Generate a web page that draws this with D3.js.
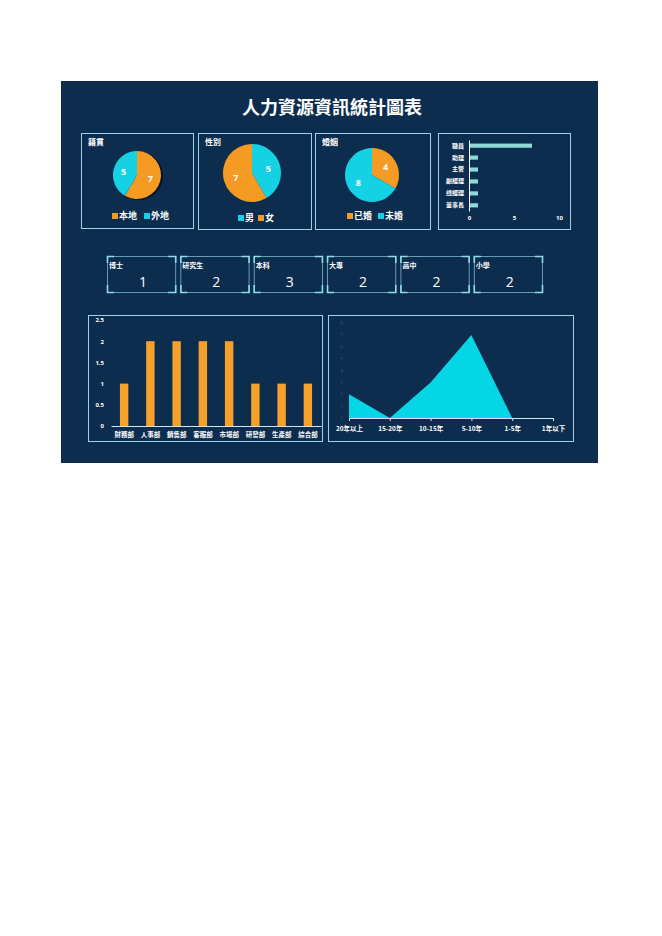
<!DOCTYPE html>
<html>
<head>
<meta charset="utf-8">
<script src="https://cdn.jsdelivr.net/npm/d3@7"></script>
<style>
  body { margin: 0; background: #ffffff; }
  svg text { font-family: "Noto Sans CJK TC", "Noto Sans", sans-serif; }
</style>
</head>
<body>
<svg id="board" width="662" height="936"></svg>
<script>
// ---- data ----
var title = '人力資源資訊統計圖表'

var originLabels = ['本地', '外地']
var originValues = [7, 5]

var genderLabels = ['男', '女']
var genderValues = [5, 7]

var maritalLabels = ['已婚', '未婚']
var maritalValues = [4, 8]

var roles = ['職員', '助理', '主管', '副經理', '總經理', '董事長']
var roleCounts = [7, 1, 1, 1, 1, 1]
var roleTicks = [0, 5, 10]

var eduLabels = ['博士', '研究生', '本科', '大專', '高中', '小學']
var eduCounts = [1, 2, 3, 2, 2, 2]

var depts = ['財務部', '人事部', '銷售部', '客服部', '市場部', '研發部', '生產部', '綜合部']
var deptCounts = [1, 2, 2, 2, 2, 1, 1, 1]
var deptTicks = [0, 0.5, 1, 1.5, 2, 2.5]

var tenure = ['20年以上', '15-20年', '10-15年', '5-10年', '1-5年', '1年以下']
var tenureCounts = [2, 0, 3, 7, 0, 0]
var tenureTicks = [0, 1, 2, 3, 4, 5, 6, 7, 8]

// ---- colours ----
var bg = '#0d2d4e'
var orange = '#f59a23'
var cyan = '#14d1e3'
var frame = '#9fd2e6'

var svg = d3.select('#board')

svg.append('rect')
  .attr('x', 61).attr('y', 81)
  .attr('width', 537).attr('height', 382)
  .attr('fill', bg)

svg.append('text')
  .attr('x', 332).attr('y', 114)
  .attr('text-anchor', 'middle')
  .attr('fill', '#ffffff')
  .style('font-size', '18px')
  .style('font-weight', 'bold')
  .text(title)

function panel(x, y, w, h, name) {
  svg.append('rect')
    .attr('x', x + 0.5).attr('y', y + 0.5)
    .attr('width', w).attr('height', h)
    .attr('fill', 'none')
    .attr('stroke', frame)
    .attr('stroke-width', 1)
  if (name) {
    svg.append('text')
      .attr('x', x + 7).attr('y', y + 12)
      .attr('fill', '#ffffff')
      .style('font-size', '8px')
      .style('font-weight', 'bold')
      .text(name)
  }
}

// ---- pies ----
function pie(cx, cy, r, labels, values, colors, legendX, legendY, legendGap, shadow) {
  var g = svg.append('g').attr('transform', `translate(${cx},${cy})`)
  var arcs = d3.pie().sort(null)(values)
  var arc = d3.arc().innerRadius(0).outerRadius(r)
  var labelArc = d3.arc().innerRadius(r * 0.58).outerRadius(r * 0.58)

  if (shadow) {
    g.append('circle')
      .attr('cx', 2).attr('cy', 1)
      .attr('r', r)
      .attr('fill', '#061322')
  }

  g.selectAll('path')
    .data(arcs)
    .join('path')
    .attr('d', arc)
    .attr('fill', (d, i) => colors[i])

  g.selectAll('text')
    .data(arcs)
    .join('text')
    .attr('transform', d => `translate(${labelArc.centroid(d)})`)
    .attr('dy', '0.35em')
    .attr('text-anchor', 'middle')
    .attr('fill', '#ffffff')
    .style('font-size', '9px')
    .style('font-weight', 'bold')
    .style('font-family', '"Open Sans", sans-serif')
    .text(d => d.data)

  var lg = svg.append('g')
  labels.forEach(function(l, i) {
    var x = legendX + i * legendGap
    lg.append('rect')
      .attr('x', x).attr('y', legendY - 3)
      .attr('width', 6).attr('height', 6)
      .attr('fill', colors[i])
    lg.append('text')
      .attr('x', x + 7).attr('y', legendY)
      .attr('dy', '0.35em')
      .attr('fill', '#ffffff')
      .style('font-size', '9px')
      .style('font-weight', 'bold')
      .text(l)
  })
}

panel(81, 133, 112, 95, '籍貫')
pie(137, 175, 24, originLabels, originValues, [orange, cyan], 112, 216, 32, true)

panel(198, 133, 113, 96, '性別')
pie(252, 173, 29, genderLabels, genderValues, [cyan, orange], 238, 218, 20, false)

panel(315, 133, 115, 96, '婚姻')
pie(372, 175, 27, maritalLabels, maritalValues, [orange, cyan], 347, 216, 31, false)

// ---- role bars ----
panel(438, 133, 132, 96, null)

var rx = d3.scaleLinear().domain([0, 10]).range([469, 559])
var ry = d3.scaleBand().domain(roles).range([140, 211]).paddingInner(0.65).paddingOuter(0.3)

svg.append('g')
  .selectAll('rect')
  .data(roleCounts)
  .join('rect')
  .attr('x', rx(0))
  .attr('y', (d, i) => ry(roles[i]))
  .attr('width', d => rx(d) - rx(0))
  .attr('height', ry.bandwidth())
  .attr('fill', '#8fdad8')

var roleAxis = svg.append('g')
  .attr('transform', `translate(${rx(0)},0)`)
  .call(d3.axisLeft(ry).tickSize(0).tickPadding(5))
roleAxis.select('.domain').attr('stroke', '#ffffff')
roleAxis.selectAll('text')
  .attr('fill', '#ffffff')
  .style('font-size', '6px')
  .style('font-weight', 'bold')

var roleXAxis = svg.append('g')
  .attr('transform', 'translate(0,216)')
  .call(d3.axisBottom(rx).tickValues(roleTicks).tickSize(0).tickPadding(0))
roleXAxis.select('.domain').remove()
roleXAxis.selectAll('text')
  .attr('fill', '#ffffff')
  .style('font-size', '6px')
  .style('font-weight', 'bold')
  .style('font-family', '"Open Sans", sans-serif')

// ---- education boxes ----
var ex = d3.scaleBand().domain(eduLabels).range([107, 542]).paddingInner(0.07)

var boxes = svg.append('g')
  .selectAll('g')
  .data(eduLabels)
  .join('g')
  .attr('transform', d => `translate(${ex(d)},256)`)

var bw = ex.bandwidth()
var bh = 36

boxes.append('rect')
  .attr('x', 0.5).attr('y', 0.5)
  .attr('width', bw).attr('height', bh)
  .attr('fill', 'none')
  .attr('stroke', '#7fb6cc')
  .attr('stroke-width', 0.8)

var corner = 7
var cornerPaths = [
  `M0.5,${corner}V0.5H${corner}`,
  `M${bw - corner},0.5H${bw + 0.5}V${corner}`,
  `M0.5,${bh - corner}V${bh + 0.5}H${corner}`,
  `M${bw - corner},${bh + 0.5}H${bw + 0.5}V${bh - corner}`
]
cornerPaths.forEach(function(p) {
  boxes.append('path')
    .attr('d', p)
    .attr('fill', 'none')
    .attr('stroke', '#8fdce8')
    .attr('stroke-width', 1.6)
})

boxes.append('text')
  .attr('x', 2).attr('y', 12)
  .attr('fill', '#ffffff')
  .style('font-size', '7px')
  .style('font-weight', 'bold')
  .text(d => d)

boxes.append('text')
  .attr('x', 36).attr('y', 26)
  .attr('dy', '0.35em')
  .attr('text-anchor', 'middle')
  .attr('fill', '#ffffff')
  .style('font-size', '14px')
  .style('font-family', '"Open Sans", sans-serif')
  .text((d, i) => eduCounts[i])

// ---- department bars ----
panel(88, 315, 234, 126, null)

var dx = d3.scaleBand().domain(depts).range([111, 321]).paddingInner(0.68).paddingOuter(0.34)
var dy = d3.scaleLinear().domain([0, 2.5]).range([426, 320])

svg.append('g')
  .selectAll('rect')
  .data(deptCounts)
  .join('rect')
  .attr('x', (d, i) => dx(depts[i]))
  .attr('y', d => dy(d))
  .attr('width', dx.bandwidth())
  .attr('height', d => dy(0) - dy(d))
  .attr('fill', '#f7a02a')

var deptYAxis = svg.append('g')
  .attr('transform', 'translate(104,0)')
  .call(d3.axisLeft(dy).tickValues(deptTicks).tickFormat(d => String(d)).tickSize(0).tickPadding(0))
deptYAxis.select('.domain').remove()
deptYAxis.selectAll('text')
  .attr('fill', '#ffffff')
  .style('font-size', '6px')
  .style('font-weight', 'bold')
  .style('font-family', '"Open Sans", sans-serif')

var deptXAxis = svg.append('g')
  .attr('transform', `translate(0,${dy(0)})`)
  .call(d3.axisBottom(dx).tickSize(0).tickPadding(6))
deptXAxis.select('.domain').attr('stroke', '#cfe6f0').attr('stroke-width', 1)
deptXAxis.selectAll('text')
  .attr('fill', '#ffffff')
  .style('font-size', '6.5px')
  .style('font-weight', 'bold')

// ---- tenure area ----
panel(328, 315, 245, 126, null)

var tx = d3.scalePoint().domain(tenure).range([349, 553])
var ty = d3.scaleLinear().domain([0, 8]).range([418, 323])

var area = d3.area()
  .x((d, i) => tx(tenure[i]))
  .y0(ty(0))
  .y1(d => ty(d))

svg.append('path')
  .datum(tenureCounts)
  .attr('d', area)
  .attr('fill', '#05d6e6')

var tYAxis = svg.append('g')
  .attr('transform', 'translate(343,0)')
  .call(d3.axisLeft(ty).tickValues(tenureTicks).tickSize(0).tickPadding(0))
tYAxis.select('.domain').remove()
tYAxis.selectAll('text')
  .attr('fill', '#2f5478')
  .style('font-size', '5px')
  .style('font-family', '"Open Sans", sans-serif')

var tXAxis = svg.append('g')
  .attr('transform', `translate(0,${ty(0)})`)
  .call(d3.axisBottom(tx).tickSize(3).tickSizeOuter(0).tickPadding(5))
tXAxis.select('.domain').attr('stroke', '#cfe6f0')
tXAxis.selectAll('line').attr('stroke', '#cfe6f0')
tXAxis.selectAll('text')
  .attr('fill', '#ffffff')
  .style('font-size', '6.5px')
  .style('font-weight', 'bold')
</script>
</body>
</html>
